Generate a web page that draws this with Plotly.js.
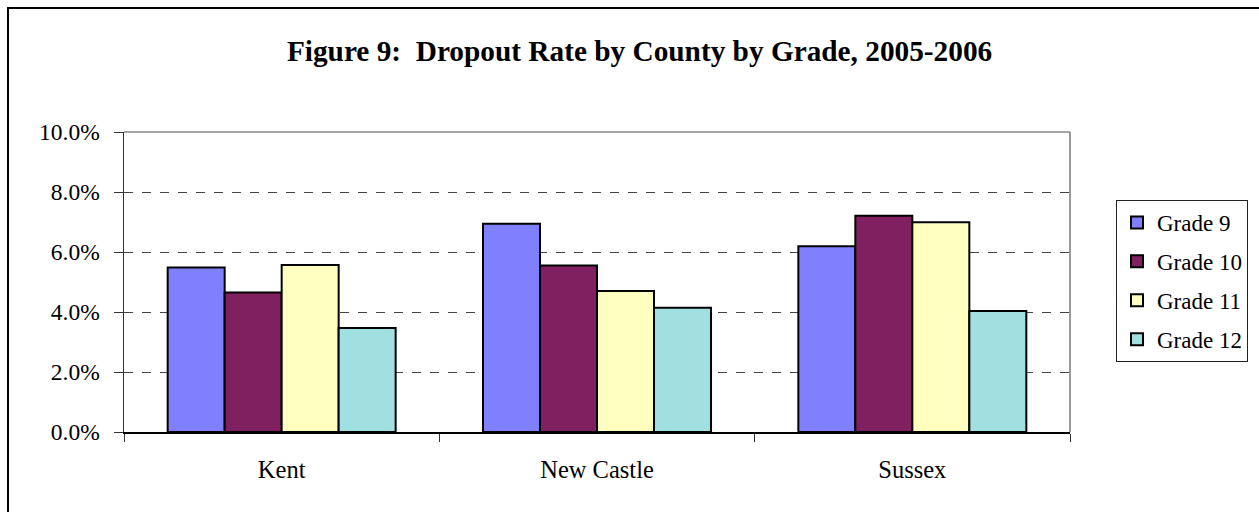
<!DOCTYPE html>
<html>
<head>
<meta charset="utf-8">
<script src="https://cdn.plot.ly/plotly-3.0.1.min.js"></script>
<style>
  html, body { margin: 0; padding: 0; background: #fff; }
  #wrap { position: relative; width: 1259px; height: 512px; overflow: hidden; }
  #chart { width: 1259px; height: 512px; }
  #frame { position: absolute; left: 7px; top: 7px; width: 1400px; height: 700px;
           border-left: 2px solid #000; border-top: 2px solid #000; pointer-events: none; }
</style>
</head>
<body>
<div id="wrap">
  <div id="chart"></div>
  <div id="frame"></div>
</div>
<script>
const counties = ["Kent", "New Castle", "Sussex"];
const seriesNames = ["Grade 9", "Grade 10", "Grade 11", "Grade 12"];
const grade9  = [0.0548, 0.0694, 0.0619];
const grade10 = [0.0465, 0.0555, 0.0721];
const grade11 = [0.0557, 0.0470, 0.0699];
const grade12 = [0.0347, 0.0414, 0.0403];
const yTickVals = [0, 0.02, 0.04, 0.06, 0.08, 0.10];
const yTickText = ["0.0%", "2.0%", "4.0%", "6.0%", "8.0%", "10.0%"];
const colors = ["#8080FF", "#802060", "#FFFFC0", "#A0E0E0"];

const values = [grade9, grade10, grade11, grade12];
const font = "'Liberation Serif', 'Times New Roman', serif";

const traces = values.map((v, i) => ({
  type: "bar",
  name: seriesNames[i],
  x: counties,
  y: v,
  legendgroup: "g" + i,
  marker: { color: colors[i], line: { color: "#000", width: 2 } },
  hoverinfo: "x+y+name"
}));

const layout = {
  width: 1259, height: 512,
  margin: { l: 124, r: 189, t: 132, b: 80 },
  paper_bgcolor: "#fff", plot_bgcolor: "#fff",
  font: { family: font, size: 23, color: "#000" },
  title: {
    text: "<b>Figure 9:  Dropout Rate by County by Grade, 2005-2006</b>",
    font: { family: font, size: 29.3, color: "#000" },
    x: 0.508, xref: "container", xanchor: "center",
    y: 1 - 51 / 512, yref: "container", yanchor: "middle"
  },
  barmode: "group",
  bargap: 0.277,
  bargroupgap: 0,
  showlegend: true,
  legend: {
    x: 1116 / 1259, xref: "container", xanchor: "left",
    y: 1 - 200 / 512, yref: "container", yanchor: "top",
    bordercolor: "#222", borderwidth: 1, bgcolor: "#fff",
    font: { family: font, size: 23, color: "#000" },
    traceorder: "grouped", tracegroupgap: 6,
    itemwidth: 30
  },
  xaxis: {
    type: "category",
    tickson: "boundaries",
    ticks: "outside", ticklen: 8, tickcolor: "#333", tickwidth: 1,
    showline: true, linecolor: "#000", linewidth: 2,
    showgrid: false, zeroline: false,
    ticklabelstandoff: 15,
    tickfont: { family: font, size: 24.5, color: "#000" }
  },
  yaxis: {
    range: [0, 0.10],
    tickvals: yTickVals, ticktext: yTickText,
    ticks: "outside", ticklen: 9, tickcolor: "#333", tickwidth: 1,
    showline: true, linecolor: "#333", linewidth: 1.5,
    showgrid: true, gridcolor: "#444", griddash: "dash", gridwidth: 1,
    zeroline: false,
    ticklabelstandoff: 9,
    tickfont: { family: font, size: 23.5, color: "#000" }
  },
  shapes: [
    { type: "line", xref: "paper", yref: "paper", x0: 0, x1: 1, y0: 1, y1: 1,
      line: { color: "#888", width: 1.5 } },
    { type: "line", xref: "paper", yref: "paper", x0: 1, x1: 1, y0: 0, y1: 1,
      line: { color: "#999", width: 2 } }
  ]
};

Plotly.newPlot("chart", traces, layout, { displayModeBar: false, staticPlot: true });
</script>
</body>
</html>
